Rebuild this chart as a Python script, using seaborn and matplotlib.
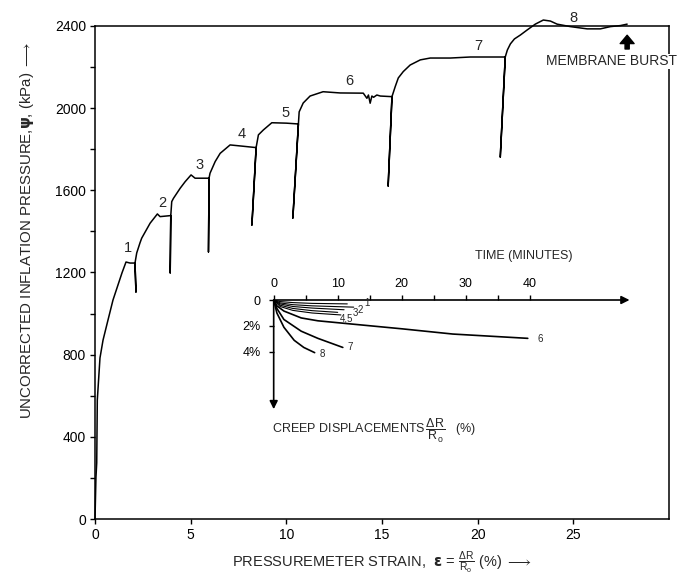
import matplotlib
matplotlib.use("Agg")
import matplotlib.pyplot as plt
import seaborn as sns
import pandas as pd

# ---------------- data ----------------
strain = [0, 0.05, 0.09, 0.12, 0.26, 0.42, 0.68, 0.94, 1.15, 1.41, 1.62, 1.83, 2.09, 2.14, 2.09,
          2.18, 2.35, 2.44, 2.88, 3.26, 3.40, 3.96, 3.93, 3.96,
          4.01, 4.10, 4.45, 4.71, 5.02, 5.23, 5.96, 5.93, 5.96,
          6.01, 6.28, 6.54, 7.06, 7.7, 8.42, 8.20, 8.42,
          8.54, 8.80, 9.24, 10.0, 10.63, 10.34, 10.63,
          10.67, 10.88, 11.24, 11.92, 12.81, 14.02, 14.21, 14.29, 14.38, 14.47, 14.56, 14.73, 14.91, 15.52, 15.32, 15.52,
          15.69, 15.85, 16.11, 16.47, 17.0, 17.52, 18.57, 19.61, 20.66, 21.44, 21.18, 21.44,
          21.55, 21.71, 21.92, 22.23, 22.59, 23.01, 23.43, 23.8, 24.15, 24.84, 25.72, 26.41, 26.94, 27.46, 27.81]
pressure = [0, 204, 273, 579, 784, 871, 969, 1066, 1125, 1198, 1251, 1246, 1246, 1105, 1246,
            1295, 1344, 1367, 1440, 1485, 1472, 1477, 1198, 1477,
            1545, 1561, 1610, 1642, 1675, 1659, 1659, 1300, 1659,
            1683, 1740, 1780, 1821, 1815, 1808, 1431, 1808,
            1870, 1894, 1929, 1927, 1923, 1465, 1923,
            1982, 2025, 2059, 2080, 2074, 2073, 2048, 2064, 2024, 2059, 2053, 2064, 2059, 2056, 1621, 2056,
            2105, 2147, 2178, 2210, 2235, 2244, 2244, 2249, 2249, 2249, 1762, 2249,
            2283, 2313, 2337, 2356, 2381, 2409, 2429, 2424, 2409, 2397, 2386, 2386, 2397, 2402, 2409]

stage_labels = ["1", "2", "3", "4", "5", "6", "7", "8"]
stage_label_x = [1.73, 3.50, 5.46, 7.69, 9.94, 13.28, 20.03, 25.0]
stage_label_y = [1319, 1538, 1723, 1874, 1977, 2132, 2303, 2441]

x_ticks = [0, 5, 10, 15, 20, 25]
y_ticks = [0, 200, 400, 600, 800, 1000, 1200, 1400, 1600, 1800, 2000, 2200, 2400]
y_ticklabels = ["0", "", "400", "", "800", "", "1200", "", "1600", "", "2000", "", "2400"]

# creep curves (time in minutes, displacement in %)
creep_t1 = [0, 1, 3, 6, 11.5]
creep_d1 = [0, 0.12, 0.20, 0.26, 0.30]
creep_t2 = [0, 1, 3, 6, 12.5]
creep_d2 = [0, 0.22, 0.36, 0.45, 0.55]
creep_t3 = [0, 1, 3, 6, 11.0]
creep_d3 = [0, 0.30, 0.50, 0.62, 0.75]
creep_t4 = [0, 1, 3, 6, 10.0]
creep_d4 = [0, 0.40, 0.65, 0.82, 0.95]
creep_t5 = [0, 1, 3, 6, 10.5]
creep_d5 = [0, 0.50, 0.80, 1.00, 1.15]
creep_t6 = [0, 0.5, 1.6, 4.3, 6.9, 12.2, 20.1, 28.0, 39.7]
creep_d6 = [0, 0.45, 0.85, 1.38, 1.60, 1.85, 2.22, 2.62, 2.95]
creep_t7 = [0, 0.5, 1.6, 4.3, 6.9, 10.8]
creep_d7 = [0, 0.65, 1.5, 2.4, 2.95, 3.65]
creep_t8 = [0, 0.5, 1.6, 3.2, 4.7, 6.4]
creep_d8 = [0, 1.0, 2.1, 3.1, 3.65, 4.05]

creep_labels = ["1", "2", "3", "4,5", "6", "7", "8"]
creep_label_t = [14.6, 13.6, 12.7, 11.4, 41.6, 12.0, 7.6]
creep_label_d = [0.22, 0.75, 1.0, 1.45, 3.0, 3.65, 4.15]

time_ticks = [0, 5, 10, 15, 20, 25, 30, 35, 40]
time_ticklabels = ["0", "", "10", "", "20", "", "30", "", "40"]
disp_ticks = [0, 2, 4]
disp_ticklabels = ["0", "2%", "4%"]

# ---------------- style ----------------
sns.set_theme(style="ticks")
plt.rcParams['font.family'] = ['Liberation Sans', 'DejaVu Sans']
plt.rcParams['mathtext.fontset'] = 'custom'
plt.rcParams['mathtext.rm'] = 'Liberation Sans'
plt.rcParams['mathtext.it'] = 'Liberation Sans'
plt.rcParams['mathtext.bf'] = 'DejaVu Sans:bold'

fig = plt.figure(figsize=(6.82, 5.84), dpi=100)
ax = fig.add_axes([0.1393, 0.1113, 0.8417, 0.8442])

main_df = pd.DataFrame({"strain": strain, "pressure": pressure})
sns.lineplot(data=main_df, x="strain", y="pressure", sort=False, estimator=None,
             color="black", lw=1.1, ax=ax)
for ln in ax.lines:
    ln.set_clip_on(False)

ax.set_xlim(0, 30)
ax.set_ylim(0, 2400)
ax.set_xticks(x_ticks)
ax.set_xticklabels([str(v) for v in x_ticks])
ax.set_yticks(y_ticks)
ax.set_yticklabels(y_ticklabels)
ax.tick_params(direction="out", length=3.5, width=1.0, labelsize=10, colors="black", pad=3)
for s in ax.spines.values():
    s.set_visible(True)
    s.set_color("black")
    s.set_linewidth(1.1)
ax.set_xlabel("")
ax.set_ylabel("")

for lab, lx, ly in zip(stage_labels, stage_label_x, stage_label_y):
    ax.text(lx, ly, lab, ha="center", va="center", fontsize=10.5, clip_on=False)

ax.annotate("", xy=(27.81, 2355), xytext=(27.81, 2288),
            arrowprops=dict(facecolor="black", edgecolor="black", width=3, headwidth=10, headlength=6))
ax.text(27.0, 2228, "MEMBRANE BURST", ha="center", va="center", fontsize=10,
        bbox=dict(facecolor="white", edgecolor="none", pad=0.5), clip_on=False)

fig.text(0.039, 0.606, r"UNCORRECTED INFLATION PRESSURE,$\mathbf{\psi}$, (kPa) $\longrightarrow$",
         rotation=90, ha="center", va="center", fontsize=10.8)
fig.text(0.56, 0.036, r"PRESSUREMETER STRAIN,  $\mathbf{\varepsilon}$ = $\frac{\Delta \mathrm{R}}{\mathrm{R_o}}$ (%) $\longrightarrow$",
         ha="center", va="center", fontsize=10.5)

# ---------------- inset ----------------
ax_in = fig.add_axes([0.4013, 0.2949, 0.5255, 0.1914])
ax_in.patch.set_alpha(0)
for s in ax_in.spines.values():
    s.set_visible(False)

creep_sets = [(creep_t1, creep_d1), (creep_t2, creep_d2), (creep_t3, creep_d3), (creep_t4, creep_d4),
              (creep_t5, creep_d5), (creep_t6, creep_d6), (creep_t7, creep_d7), (creep_t8, creep_d8)]
for i, (tt, dd) in enumerate(creep_sets):
    lw = 0.8 if i < 5 else 1.2
    sns.lineplot(x=tt, y=dd, sort=False, estimator=None, color="black", lw=lw, ax=ax_in)

ax_in.set_xlim(0, 56)
ax_in.set_ylim(8.6, 0)
ax_in.xaxis.tick_top()
ax_in.set_xticks(time_ticks)
ax_in.set_xticklabels(time_ticklabels)
ax_in.set_yticks(disp_ticks)
ax_in.set_yticklabels(disp_ticklabels)
ax_in.tick_params(axis="x", direction="out", length=3.5, width=1.0, labelsize=9, pad=4, colors="black")
ax_in.tick_params(axis="y", direction="out", length=3.5, width=1.0, labelsize=9, pad=6, colors="black")
ax_in.set_xlabel("")
ax_in.set_ylabel("")

ax_in.annotate("", xy=(55.6, 0), xytext=(0, 0),
               arrowprops=dict(arrowstyle="-|>", color="black", lw=1.2, mutation_scale=12, shrinkA=0, shrinkB=0))
ax_in.annotate("", xy=(0, 8.4), xytext=(0, 0),
               arrowprops=dict(arrowstyle="-|>", color="black", lw=1.2, mutation_scale=12, shrinkA=0, shrinkB=0))

for lab, lt, ld in zip(creep_labels, creep_label_t, creep_label_d):
    ax_in.text(lt, ld, lab, ha="center", va="center", fontsize=7, clip_on=False)

ax_in.text(39.0, -3.4, "TIME (MINUTES)", ha="center", va="center", fontsize=9, clip_on=False)
ax_in.text(-0.2, 10.1, r"CREEP DISPLACEMENTS$\,\dfrac{\Delta \mathrm{R}}{\mathrm{R_o}}$   (%)",
           ha="left", va="center", fontsize=9, clip_on=False)

fig.savefig("out.png", dpi=100)
